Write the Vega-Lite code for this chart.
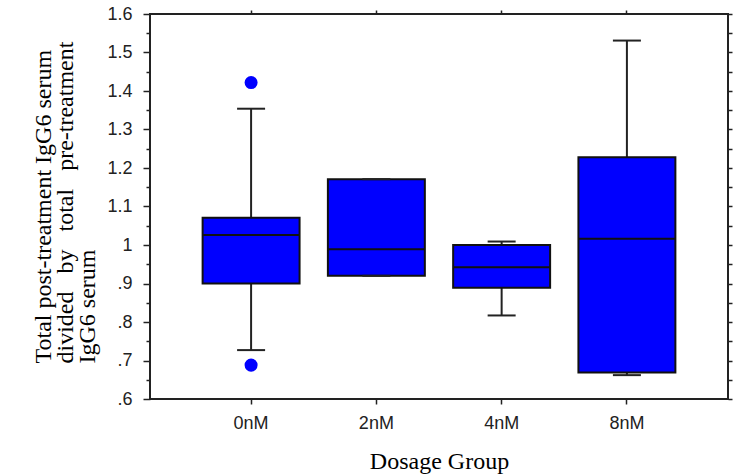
{
  "$schema": "https://vega.github.io/schema/vega-lite/v6.json",
  "width": 578,
  "height": 385,
  "autosize": "none",
  "padding": {"left": 150, "top": 14, "right": 7, "bottom": 75},
  "background": "white",
  "config": {"view": {"stroke": "#222", "strokeWidth": 2}},
  "datasets": {
    "boxes": [
      {"group": "0nM", "lower": 0.727, "q1": 0.900, "median": 1.026, "q3": 1.071, "upper": 1.354},
      {"group": "2nM", "lower": 0.920, "q1": 0.920, "median": 0.989, "q3": 1.171, "upper": 1.171},
      {"group": "4nM", "lower": 0.817, "q1": 0.889, "median": 0.942, "q3": 1.000, "upper": 1.009},
      {"group": "8nM", "lower": 0.662, "q1": 0.669, "median": 1.016, "q3": 1.228, "upper": 1.531}
    ],
    "outliers": [
      {"group": "0nM", "value": 1.422},
      {"group": "0nM", "value": 0.688}
    ]
  },
  "resolve": {"axis": {"x": "independent", "y": "independent"}},
  "layer": [
    {
      "data": {"name": "boxes"},
      "mark": {"type": "rule", "color": "#222", "strokeWidth": 2},
      "encoding": {
        "x": {
          "field": "group", "type": "nominal",
          "scale": {"type": "band", "domain": ["0nM", "2nM", "4nM", "8nM"], "paddingInner": 0.226, "paddingOuter": 0.42},
          "axis": {
            "orient": "bottom", "labelAngle": 0, "domain": false, "grid": false,
            "tickSize": 5, "tickColor": "#222", "tickWidth": 1.5,
            "labelFont": "Liberation Sans", "labelFontSize": 18, "labelColor": "#222", "labelPadding": 10,
            "title": "Dosage Group", "titleFont": "Liberation Serif", "titleFontSize": 24, "titleFontWeight": "normal",
            "titleColor": "black", "titleX": 289, "titleY": 69, "titleAlign": "center", "titleBaseline": "alphabetic"
          }
        },
        "y": {
          "field": "lower", "type": "quantitative",
          "scale": {"domain": [0.6, 1.6], "nice": false, "zero": false},
          "axis": {
            "orient": "left", "domain": false, "grid": false,
            "values": [0.6, 0.65, 0.7, 0.75, 0.8, 0.85, 0.9, 0.95, 1, 1.05, 1.1, 1.15, 1.2, 1.25, 1.3, 1.35, 1.4, 1.45, 1.5, 1.55, 1.6],
            "labelExpr": "round(datum.value*100) % 10 != 0 ? '' : (datum.value < 1 ? slice(format(datum.value, '.1f'), 1) : format(datum.value, '.1~f'))",
            "tickSize": {"condition": {"test": "round(datum.value*100) % 10 == 0", "value": 7}, "value": 4},
            "tickColor": "#222", "tickWidth": 1.5,
            "labelFont": "Liberation Sans", "labelFontSize": 18, "labelColor": "#222", "labelPadding": 11,
            "title": ["Total post-treatment IgG6 serum", "divided\u00a0\u00a0 by\u00a0\u00a0 total\u00a0\u00a0 pre-treatment", "IgG6 serum"],
            "titleFont": "Liberation Serif", "titleFontSize": 24, "titleFontWeight": "normal", "titleColor": "black",
            "titleAngle": -90, "titleAlign": "left", "titleBaseline": "alphabetic",
            "titleX": -100, "titleY": 349, "titleLineHeight": 22
          }
        },
        "y2": {"field": "upper"}
      }
    },
    {
      "data": {"name": "boxes"},
      "mark": {"type": "bar", "fill": "#0000ff", "stroke": "#111", "strokeWidth": 2},
      "encoding": {
        "x": {
          "field": "group", "type": "nominal",
          "scale": {"type": "band", "domain": ["0nM", "2nM", "4nM", "8nM"], "paddingInner": 0.226, "paddingOuter": 0.42},
          "axis": {"orient": "top", "labels": false, "domain": false, "grid": false, "tickSize": 4, "tickColor": "#222", "tickWidth": 1.5, "title": null}
        },
        "y": {
          "field": "q1", "type": "quantitative",
          "scale": {"domain": [0.6, 1.6], "nice": false, "zero": false},
          "axis": {
            "orient": "right", "labels": false, "domain": false, "grid": false, "title": null,
            "values": [0.6, 0.65, 0.7, 0.75, 0.8, 0.85, 0.9, 0.95, 1, 1.05, 1.1, 1.15, 1.2, 1.25, 1.3, 1.35, 1.4, 1.45, 1.5, 1.55, 1.6],
            "tickSize": 4, "tickColor": "#222", "tickWidth": 1.5
          }
        },
        "y2": {"field": "q3"}
      }
    },
    {
      "data": {"name": "boxes"},
      "mark": {"type": "tick", "color": "#111", "size": 97, "thickness": 2, "opacity": 1},
      "encoding": {
        "x": {"field": "group", "type": "nominal", "axis": null},
        "y": {"field": "median", "type": "quantitative", "axis": null}
      }
    },
    {
      "data": {"name": "boxes"},
      "mark": {"type": "tick", "color": "#222", "size": 28, "thickness": 2, "opacity": 1},
      "encoding": {
        "x": {"field": "group", "type": "nominal", "axis": null},
        "y": {"field": "lower", "type": "quantitative", "axis": null}
      }
    },
    {
      "data": {"name": "boxes"},
      "mark": {"type": "tick", "color": "#222", "size": 28, "thickness": 2, "opacity": 1},
      "encoding": {
        "x": {"field": "group", "type": "nominal", "axis": null},
        "y": {"field": "upper", "type": "quantitative", "axis": null}
      }
    },
    {
      "data": {"name": "outliers"},
      "mark": {"type": "point", "filled": true, "color": "#0000ff", "size": 170, "opacity": 1},
      "encoding": {
        "x": {"field": "group", "type": "nominal", "axis": null},
        "y": {"field": "value", "type": "quantitative", "axis": null}
      }
    }
  ]
}
